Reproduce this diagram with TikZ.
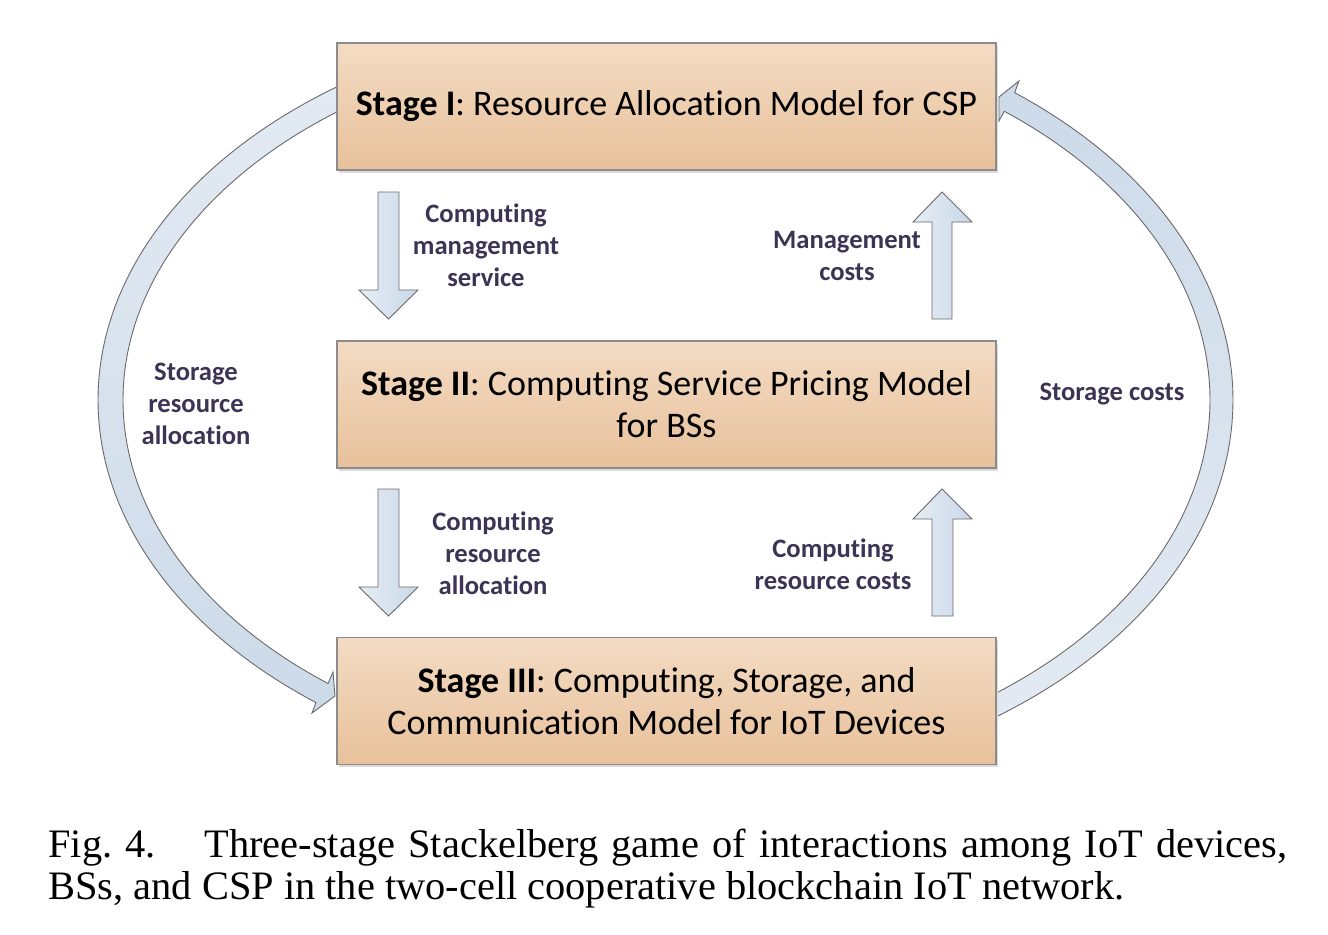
\documentclass[tikz,border=0pt]{standalone}
\usepackage{fontspec}
\setmainfont{Liberation Serif}
\newfontfamily\calfont[RawFeature={-liga;-clig;-dlig}]{Carlito}
\newcommand\Ti{t\kern0pt i}
\usetikzlibrary{calc}
\definecolor{lbl}{HTML}{3B3455}
\definecolor{boxtop}{HTML}{F3DBC3}
\definecolor{boxbot}{HTML}{E8C19B}
\definecolor{edgegray}{HTML}{8C8C8C}
\definecolor{arrA}{HTML}{E6EDF5}
\definecolor{arrB}{HTML}{C9D8E9}
\definecolor{arcA}{HTML}{E3EAF3}
\definecolor{arcB}{HTML}{CCDAE9}
\definecolor{arcline}{HTML}{6A6A6A}
\begin{document}
\begin{tikzpicture}[x=0.5pt,y=-0.5pt,
  stagebox/.style={draw=edgegray, line width=0.6pt, top color=boxtop, bottom color=boxbot,
    minimum width=329.5pt, minimum height=63.5pt, inner sep=0pt, align=center,
    font=\calfont\fontsize{18}{21}\selectfont, text=black,
    preaction={fill=black!14, transform canvas={shift={(1.2pt,-1.4pt)}}}},
  lab/.style={font=\calfont\bfseries\fontsize{13.3}{16}\selectfont, text=lbl, align=center, inner sep=0pt},
  blockarrow/.style={draw=arcline, line width=0.45pt, left color=arrA, right color=arrB},
  bigarc/.style={draw=arcline, line width=0.45pt}
]
\useasboundingbox (0,0) rectangle (1328,934);

% big curved arrows (drawn first, boxes cover their ends)
\path[bigarc, top color=arcA, bottom color=arcB]
  plot[domain=237:128, samples=100, smooth] ({665+567*cos(\x)},{400+384*sin(\x)})
  -- (312,713) -- (335,696) -- (333,672)
  -- plot[domain=128.45:237, samples=100, smooth] ({665+542*cos(\x)},{400+362*sin(\x)})
  -- cycle;
\path[bigarc, top color=arcB, bottom color=arcA]
  plot[domain=56:-51.5, samples=100, smooth] ({665+545*cos(\x)},{400+369*sin(\x)})
  -- (999,121) -- (999,97) -- (1019,81)
  -- plot[domain=-52:56, samples=100, smooth] ({665+568*cos(\x)},{400+390*sin(\x)})
  -- cycle;

% stage boxes
\node[stagebox] (s1) at (666.5,106.5) {\raisebox{-1.5pt}{\textbf{Stage I}: Resource Alloca\Ti on Model for CSP}};
\node[stagebox] (s2) at (666.5,404.5) {\textbf{Stage II}: Compu\Ti ng Service Pricing Model\\for BSs};
\node[stagebox] (s3) at (666.5,701) {\textbf{Stage III}: Compu\Ti ng, Storage, and\\Communica\Ti on Model for IoT Devices};

% block arrows between stages
\path[blockarrow] (378,192) -- (399,192) -- (399,290) -- (418,290) -- (388.5,319) -- (359,290) -- (378,290) -- cycle;
\path[blockarrow] (932,319) -- (952,319) -- (952,222) -- (972,222) -- (942,192) -- (913,222) -- (932,222) -- cycle;
\path[blockarrow] (378,489) -- (399,489) -- (399,587) -- (418,587) -- (388.5,616) -- (359,587) -- (378,587) -- cycle;
\path[blockarrow] (932,616) -- (953,616) -- (953,519) -- (972,519) -- (942,489) -- (913,519) -- (932,519) -- cycle;

% labels
\node[lab] (l1) at (486,245) {Compu\Ti ng\\management\\service};
\node[lab] (l2) at (847,256) {Management\\costs};
\node[lab] (l3) at (196,404) {Storage\\resource\\alloca\Ti on};
\node[lab] (l4) at (1112,394) {Storage costs};
\node[lab] (l5) at (493,553) {Compu\Ti ng\\resource\\alloca\Ti on};
\node[lab] (l6) at (833,564) {Compu\Ti ng\\resource costs};

% caption
\node[anchor=north west, inner sep=0pt, text width=619.5pt, align=justify,
  font=\fontsize{20.2}{21}\selectfont] (cap) at (48,829)
  {Fig.~4.\hspace{1.2em}Three-stage Stackelberg game of interactions among IoT devices,\linebreak BSs, and CSP in the two-cell cooperative blockchain IoT network.};
\end{tikzpicture}
\end{document}
